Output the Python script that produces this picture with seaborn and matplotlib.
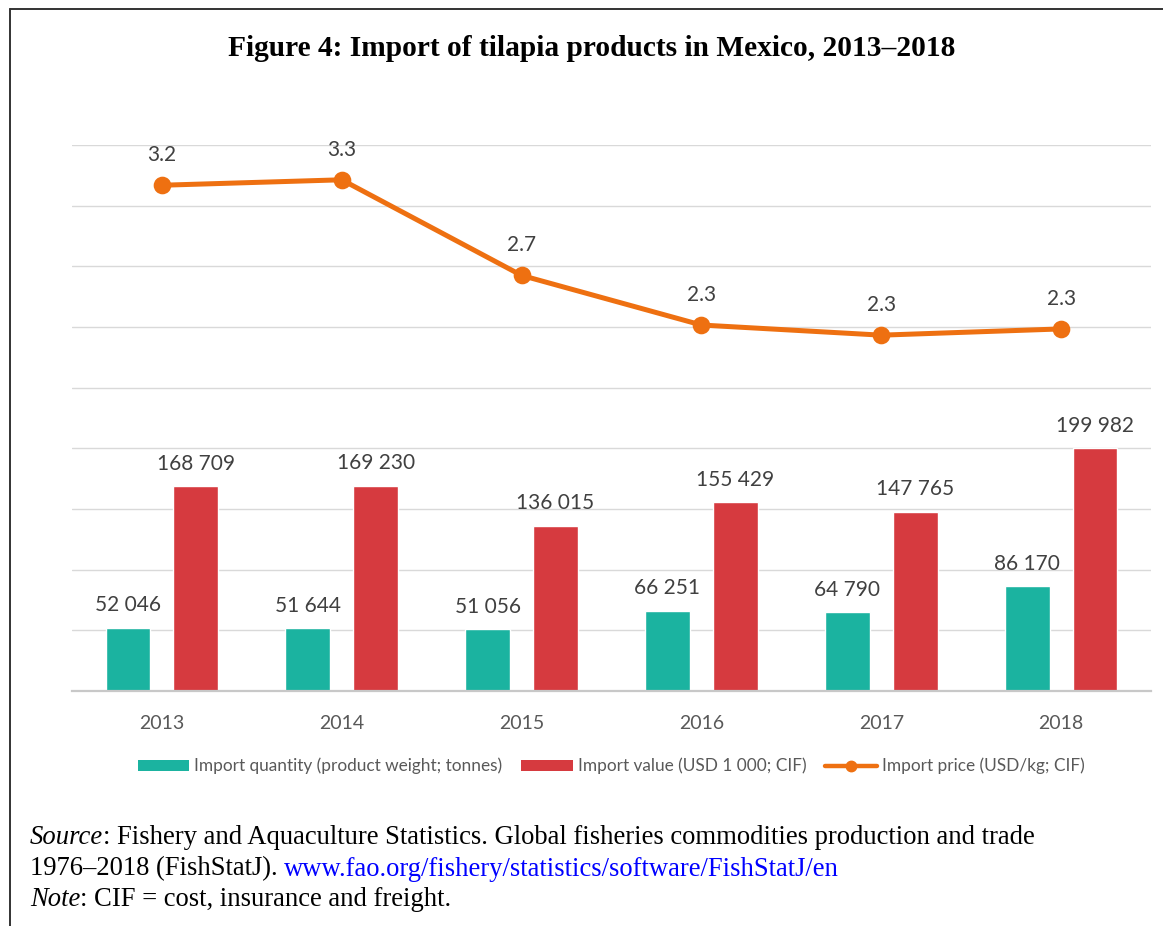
import matplotlib
matplotlib.use("Agg")
import matplotlib.pyplot as plt
import seaborn as sns
import pandas as pd
from matplotlib.patches import Patch
from matplotlib.lines import Line2D

# ---- data -------------------------------------------------------------
years = ["2013", "2014", "2015", "2016", "2017", "2018"]
quantity = [52046, 51644, 51056, 66251, 64790, 86170]          # tonnes
value = [168709, 169230, 136015, 155429, 147765, 199982]       # USD 1 000
price = [3.242, 3.277, 2.664, 2.346, 2.281, 2.321]             # USD/kg

qty_name = "Import quantity (product weight; tonnes)"
val_name = "Import value (USD 1 000; CIF)"
price_name = "Import price (USD/kg; CIF)"

teal = "#1BB3A0"
red = "#D63A3F"
orange = "#EE7011"
label_grey = "#404040"
axis_grey = "#595959"

df = pd.DataFrame({
    "year": years * 2,
    "amount": quantity + value,
    "series": [qty_name] * len(years) + [val_name] * len(years),
})

# ---- style ------------------------------------------------------------
sns.set_theme(style="white")
plt.rcParams["font.family"] = ["Lato", "DejaVu Sans"]

W, H = 1163, 926
fig = plt.figure(figsize=(W / 100, H / 100), dpi=100)
ax = fig.add_axes([72 / W, 1 - 691 / H, (1151 - 72) / W, (691 - 145) / H])

sns.barplot(data=df, x="year", y="amount", hue="series",
            palette=[teal, red], saturation=1, width=0.755, gap=0.34,
            legend=False, ax=ax, zorder=2)

ax.set_ylim(0, 450000)
ax.set_yticks(range(0, 450001, 50000))
ax.set_xlim(-0.5, len(years) - 0.5)
ax.yaxis.grid(True, color="#D9D9D9", linewidth=1, zorder=0)
ax.set_axisbelow(True)
ax.set_xlabel("")
ax.set_ylabel("")
for side in ("top", "right", "left"):
    ax.spines[side].set_visible(False)
ax.spines["bottom"].set_color("#C8C8C8")
ax.spines["bottom"].set_linewidth(1.6)


def fmt_thousands(v):
    return f"{v:,.0f}".replace(",", " ")


for container, vals in zip(ax.containers, (quantity, value)):
    ax.bar_label(container, labels=[fmt_thousands(v) for v in vals],
                 padding=9, fontsize=15, color=label_grey)

# ---- price line on secondary axis ------------------------------------
ax2 = ax.twinx()
sns.pointplot(x=years, y=price, ax=ax2, color=orange, errorbar=None,
              markersize=10, linewidth=3.6)
ax2.set_ylim(0, 3.5)
ax2.set_xlim(-0.5, len(years) - 0.5)
ax2.axis("off")
for i, p in enumerate(price):
    ax2.annotate(f"{p:.1f}", (i, p), xytext=(0, 30), textcoords="offset pixels",
                 ha="center", va="center", fontsize=15, color=label_grey)

# twinx re-enables the left ticks, so the tick setup comes afterwards
ax.tick_params(axis="y", left=False, right=False, labelleft=False)
ax.tick_params(axis="x", bottom=False, pad=11, labelsize=14, labelcolor=axis_grey)

# ---- legend -----------------------------------------------------------
handles = [
    Patch(facecolor=teal, edgecolor="none", label=qty_name),
    Patch(facecolor=red, edgecolor="none", label=val_name),
    Line2D([], [], color=orange, linewidth=3.2, marker="o", markersize=7.5,
           label=price_name),
]
fig.legend(handles=handles, loc="center", bbox_to_anchor=(611 / W, 1 - 766 / H),
           ncol=3, frameon=False, fontsize=12.4, labelcolor=axis_grey,
           handlelength=3.0, handleheight=0.58, handletextpad=0.28,
           columnspacing=1.1)

# ---- title ------------------------------------------------------------
fig.text(592 / W, 1 - 49 / H, "Figure 4: Import of tilapia products in Mexico, 2013\u20132018",
         ha="center", va="center", fontsize=21.2, fontweight="bold",
         family="Liberation Serif", color="black")

# ---- frame around the figure -----------------------------------------
fig.add_artist(Line2D([10 / W, 10 / W], [-0.01, 1 - 9 / H], color="#333333",
                      linewidth=1.4, transform=fig.transFigure))
fig.add_artist(Line2D([10 / W, 1.01], [1 - 9 / H, 1 - 9 / H], color="#333333",
                      linewidth=1.4, transform=fig.transFigure))

# ---- source notes (mixed styles laid out run by run) ------------------
fig.canvas.draw()
renderer = fig.canvas.get_renderer()
note_size = 19.2


def write_runs(y_px, runs):
    x = 30 / W
    for txt, style, color in runs:
        t = fig.text(x, 1 - y_px / H, txt, ha="left", va="center",
                     fontsize=note_size, family="Liberation Serif",
                     style=style, color=color)
        bb = t.get_window_extent(renderer=renderer)
        x += bb.width / W


write_runs(838, [("Source", "italic", "black"),
                 (": Fishery and Aquaculture Statistics. Global fisheries commodities production and trade",
                  "normal", "black")])
write_runs(869, [("1976\u20132018 (FishStatJ). ", "normal", "black"),
                 ("www.fao.org/fishery/statistics/software/FishStatJ/en", "normal", "#0000FF")])
write_runs(899, [("Note", "italic", "black"),
                 (": CIF = cost, insurance and freight.", "normal", "black")])

fig.savefig("out.png", dpi=100)
